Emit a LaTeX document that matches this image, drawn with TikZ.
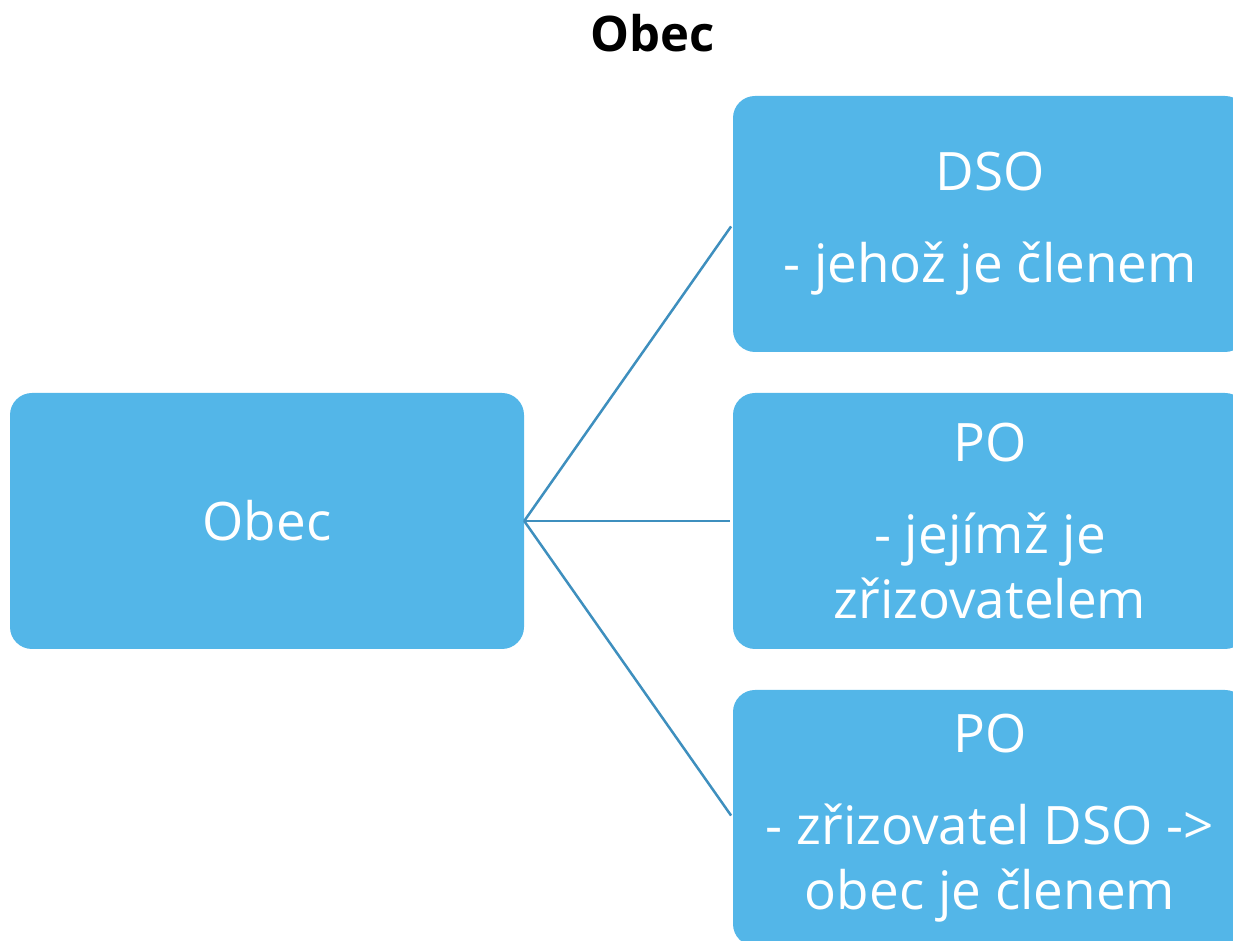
\documentclass[tikz,border=0pt]{standalone}
\usepackage{fontspec}
\setmainfont{Open Sans}
\usepackage{tikz}
\definecolor{boxblue}{RGB}{83,182,232}
\definecolor{lineblue}{RGB}{62,143,190}

\begin{document}
\begin{tikzpicture}[x=1pt,y=1pt,node distance=297pt,
  box/.style={rectangle,rounded corners=22pt,fill=boxblue,text=white,
    minimum width=514pt,minimum height=256pt,inner sep=0pt,align=center,
    font=\fontsize{53}{65}\selectfont},
  link/.style={draw=lineblue,line width=2.5pt,shorten >=3pt}]
  \useasboundingbox (0,0) rectangle (1233,941);
  \clip (0,0) rectangle (1233,941);
  \node[font=\fontsize{49}{58}\selectfont\bfseries,anchor=base] (title) at (653,889) {Obec};
  \node[box] (obec) at (267,420) {Obec};
  \node[box,right of=obec,node distance=723pt] (po1) {PO\\[27pt]- jejímž je\\zřizovatelem};
  \node[box,above of=po1] (dso) {DSO\\[27pt]- jehož je členem};
  \node[box,below of=po1] (po2) {PO\\[27pt]- zřizovatel DSO ->\\obec je členem};
  \path[link]
  (obec.east) edge (dso.west)
  (obec.east) edge (po1.west)
  (obec.east) edge (po2.west);
\end{tikzpicture}
\end{document}
